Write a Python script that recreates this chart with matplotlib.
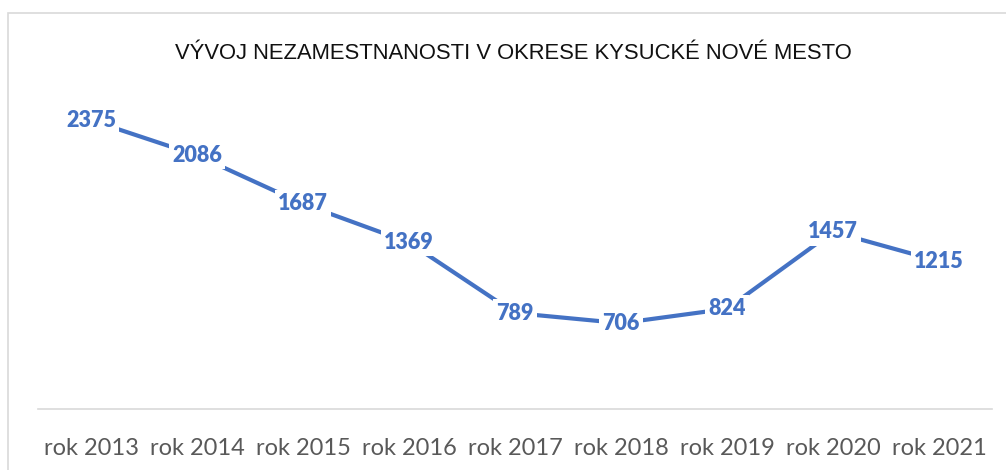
import matplotlib
matplotlib.use("Agg")
import matplotlib.pyplot as plt
from matplotlib.patches import Rectangle

categories = ["rok 2013", "rok 2014", "rok 2015", "rok 2016", "rok 2017",
              "rok 2018", "rok 2019", "rok 2020", "rok 2021"]
values = [2375, 2086, 1687, 1369, 789, 706, 824, 1457, 1215]
title = "VÝVOJ NEZAMESTNANOSTI V OKRESE KYSUCKÉ NOVÉ MESTO"

W, H = 1006, 470
fig = plt.figure(figsize=(W / 100, H / 100), dpi=100)
fig.patch.set_facecolor("white")

# chart border
fig.patches.append(Rectangle((8 / W, -0.1), 1.2, 1 - 13 / H + 0.1,
                             transform=fig.transFigure, fill=False,
                             edgecolor="#D9D9D9", linewidth=1.2))

left, right = 38 / W, 992 / W
bottom, top = 1 - 409 / H, 1 - 105 / H
ax = fig.add_axes([left, bottom, right - left, top - bottom])
ax.set_facecolor("none")

x = list(range(len(categories)))
ax.plot(x, values, color="#4472C4", linewidth=3, solid_capstyle="butt", zorder=2)
for xi, v in zip(x, values):
    ax.text(xi, v, str(v), ha="center", va="center", fontsize=15.5,
            fontweight="heavy", color="#4472C4", family=["Lato", "DejaVu Sans"],
            bbox=dict(boxstyle="square,pad=0.15", facecolor="white",
                      edgecolor="none"), zorder=3)

ax.set_xlim(-0.5, len(categories) - 0.5)
ax.set_ylim(0, 2500)
ax.set_xticks(x)
ax.set_xticklabels(categories, fontsize=17, color="#595959",
                   family=["Lato", "DejaVu Sans"])
ax.tick_params(axis="x", length=0, pad=21)
ax.set_yticks([])
for s in ["top", "left", "right"]:
    ax.spines[s].set_visible(False)
ax.spines["bottom"].set_color("#D9D9D9")
ax.spines["bottom"].set_linewidth(1.2)

fig.text(513 / W, 1 - 59 / H, title, ha="center", va="baseline", fontsize=15.8,
         color="#111111",
         family=["Liberation Sans Narrow", "Liberation Sans", "DejaVu Sans"])

fig.savefig("out.png", dpi=100)
